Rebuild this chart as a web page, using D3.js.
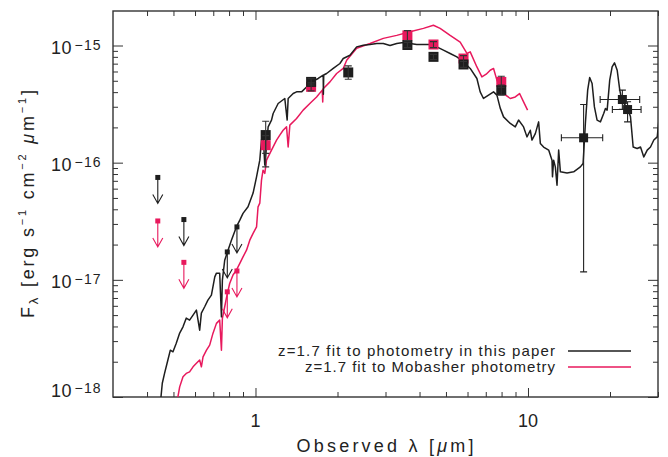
<!DOCTYPE html>
<html><head><meta charset="utf-8">
<script src="https://cdn.jsdelivr.net/npm/d3@7"></script>
<style>
body{margin:0;background:#fff}
svg{display:block}
text{font-family:"Liberation Sans",Arial,Helvetica,sans-serif;fill:#222}
</style>
</head><body>
<svg id="c" width="668" height="457"></svg>
<script>
// ---------- data ----------
const blackLambda=[0.449,0.455,0.464,0.477,0.487,0.498,0.512,0.527,0.542,0.557,0.573,0.590,0.607,0.624,0.633,0.651,0.669,0.689,0.709,0.719,0.739,0.750,0.756,0.771,0.793,0.816,0.851,0.876,0.900,0.939,0.980,1.009,1.037,1.052,1.066,1.082,1.113,1.145,1.161,1.211,1.281,1.307,1.318,1.375,1.415,1.476,1.540,1.606,1.699,1.772,1.775,1.780,1.824,1.929,2.041,2.099,2.222,2.351,2.487,2.632,2.786,2.945,3.117,3.299,3.489,3.692,3.908,4.133,4.374,4.629,4.894,5.180,5.483,5.799,6.137,6.494,6.677,6.866,7.166,7.475,7.691,7.909,8.135,8.610,8.981,9.235,9.634,9.915,10.20,10.34,10.64,10.94,11.10,11.41,11.91,12.25,12.30,12.42,12.60,12.78,12.96,13.15,13.91,14.71,15.57,15.93,16.24,16.56,16.84,17.19,17.53,17.93,18.44,18.96,19.24,19.52,19.95,20.36,20.77,21.25,21.72,22.16,23.12,23.78,24.32,25.16,25.88,26.61,27.39,28.16,28.96,29.81,30.4];
const blackFlux=[0.95e-18,1.31e-18,1.60e-18,2.07e-18,2.51e-18,2.43e-18,2.88e-18,3.51e-18,3.97e-18,4.71e-18,4.53e-18,5.00e-18,5.51e-18,3.72e-18,5.20e-18,5.89e-18,6.71e-18,7.40e-18,1.06e-17,1.14e-17,1.14e-17,4.83e-18,9.93e-18,1.47e-17,1.79e-17,2.18e-17,2.83e-17,3.23e-17,3.69e-17,4.20e-17,5.50e-17,7.57e-17,1.05e-16,1.56e-16,1.79e-16,9.53e-17,2.02e-16,2.31e-16,2.63e-16,3.20e-16,3.53e-16,2.31e-16,3.53e-16,3.89e-16,4.02e-16,4.02e-16,4.43e-16,4.89e-16,5.23e-16,5.58e-16,3.84e-16,5.60e-16,5.77e-16,6.37e-16,7.02e-16,7.74e-16,8.26e-16,9.73e-16,1.006e-15,1.02e-15,1.04e-15,1.04e-15,1.00e-15,1.04e-15,1.06e-15,1.04e-15,1.02e-15,1.02e-15,1.02e-15,9.73e-16,9.12e-16,8.55e-16,8.00e-16,7.24e-16,6.37e-16,5.23e-16,4.02e-16,3.53e-16,3.77e-16,4.02e-16,3.77e-16,2.92e-16,2.46e-16,2.16e-16,2.02e-16,2.31e-16,2.02e-16,1.66e-16,1.89e-16,1.56e-16,1.77e-16,2.23e-16,1.46e-16,1.36e-16,1.28e-16,1.05e-16,7.57e-17,1.05e-16,9.21e-17,6.43e-17,1.28e-16,8.35e-17,8.18e-17,8.35e-17,9.21e-17,9.85e-17,2.16e-16,4.16e-16,5.33e-16,4.74e-16,2.99e-16,2.31e-16,2.23e-16,2.63e-16,2.90e-16,2.81e-16,5.06e-16,6.56e-16,7.11e-16,6.15e-16,4.16e-16,3.30e-16,2.99e-16,2.46e-16,1.36e-16,1.32e-16,1.36e-16,1.12e-16,1.28e-16,1.36e-16,1.56e-16,1.66e-16,2.63e-16];

const pinkLambda=[0.517,0.527,0.542,0.557,0.573,0.590,0.607,0.624,0.633,0.642,0.661,0.679,0.698,0.719,0.739,0.750,0.756,0.771,0.786,0.804,0.827,0.851,0.876,0.900,0.927,0.953,0.980,1.009,1.022,1.037,1.052,1.066,1.082,1.098,1.113,1.145,1.195,1.228,1.263,1.300,1.318,1.337,1.415,1.496,1.583,1.676,1.758,1.765,1.772,1.876,1.985,2.099,2.161,2.351,2.632,2.945,3.299,3.692,4.133,4.498,4.760,5.180,5.638,5.969,6.137,6.494,6.774,7.025,7.267,7.475,7.691,8.135,8.610,8.981,9.314,9.634,9.966];
const pinkFlux=[0.95e-18,1.22e-18,1.49e-18,1.59e-18,1.64e-18,1.81e-18,1.94e-18,2.07e-18,1.81e-18,2.20e-18,2.51e-18,2.77e-18,3.49e-18,4.25e-18,4.53e-18,2.51e-18,4.69e-18,5.89e-18,7.40e-18,9.31e-18,1.10e-17,1.21e-17,1.38e-17,1.57e-17,1.79e-17,2.18e-17,2.49e-17,2.83e-17,4.20e-17,4.51e-17,7.10e-17,8.63e-17,8.09e-17,1.05e-16,1.12e-16,1.28e-16,1.56e-16,1.72e-16,1.89e-16,2.02e-16,1.36e-16,2.09e-16,2.38e-16,2.81e-16,3.20e-16,3.64e-16,4.16e-16,3.30e-16,4.28e-16,4.89e-16,5.77e-16,6.37e-16,7.49e-16,9.48e-16,1.04e-15,1.15e-15,1.22e-15,1.31e-15,1.40e-15,1.49e-15,1.40e-15,1.22e-15,1.07e-15,8.55e-16,8.82e-16,6.56e-16,5.40e-16,5.69e-16,6.15e-16,6.37e-16,5.06e-16,3.89e-16,3.53e-16,3.64e-16,3.89e-16,3.30e-16,2.81e-16];

// upper limits (B, V, i, z)
const limitLambda=[0.438,0.546,0.788,0.855];
const limitBlack=[7.48e-17,3.27e-17,1.73e-17,2.83e-17];
const limitPink=[3.18e-17,1.41e-17,7.9e-18,1.19e-17];

// detections (this paper)
const detBlackLambda=[1.09,1.60,2.19,3.61,4.50,5.80,7.98];
const detBlackFlux=[1.72e-16,4.89e-16,5.89e-16,1.01e-15,8.0e-16,6.89e-16,4.16e-16];
const detBlackLo=[1.20e-16,4.60e-16,5.15e-16,9.6e-16,7.6e-16,6.5e-16,3.77e-16];
const detBlackHi=[2.26e-16,5.20e-16,6.70e-16,1.06e-15,8.4e-16,7.3e-16,4.60e-16];
// detections (Mobasher)
const detPinkLambda=[1.09,1.60,3.61,4.50,5.80,7.98];
const detPinkFlux=[1.41e-16,4.44e-16,1.22e-15,1.02e-15,7.74e-16,4.89e-16];
const detPinkLo=[9.2e-17,4.1e-16,1.10e-15,9.6e-16,7.3e-16,4.4e-16];
const detPinkHi=[1.70e-16,4.8e-16,1.34e-15,1.08e-15,8.2e-16,5.47e-16];

// mid-IR points
const mirLambda=[16.0,22.2,23.2];
const mirLambdaLo=[13.26,18.4,20.4];
const mirLambdaHi=[18.8,25.7,26.0];
const mirFlux=[1.63e-16,3.46e-16,2.84e-16];
const mirFluxLo=[1.17e-17,2.86e-16,2.23e-16];
const mirFluxHi=[3.14e-16,4.16e-16,3.31e-16];

// ticks
const xMajorTicks=[1,10];
const xMajorLabels=["1","10"];
const xMinorTicks=[0.4,0.5,0.6,0.7,0.8,0.9,2,3,4,5,6,7,8,9,20,30];
const yMajorTicks=[1e-18,1e-17,1e-16,1e-15];
const yMajorExp=["\u221218","\u221217","\u221216","\u221215"];
const yMinorTicks=[1e-18,1e-17,1e-16].flatMap(d=>[2,3,4,5,6,7,8,9].map(m=>m*d));

const legendLabels=["z=1.7 fit to photometry in this paper","z=1.7 fit to Mobasher photometry"];

// ---------- layout ----------
const L=113,R=658,T=11,B=397;
const BLACK="#1e1e1e", PINK="#e8195d", AX="#333";
const svg=d3.select("#c");
const x=d3.scaleLog().domain([0.3,30]).range([L,R]);
const y=d3.scaleLog().domain([1e-18,1.97e-15]).range([B,T]);

svg.append("defs").append("clipPath").attr("id","clip")
  .append("rect").attr("x",L).attr("y",T).attr("width",R-L).attr("height",B-T);

// axes ticks (inward)
function ticks(gen,vals,size,tr){
  const a=svg.append("g").attr("transform",tr)
    .call(gen.tickValues(vals).tickSize(size).tickSizeOuter(0).tickFormat(""));
  a.select(".domain").remove();
  a.selectAll("line").attr("stroke",AX).attr("stroke-width",1);
}
ticks(d3.axisBottom(x),xMajorTicks,-9,`translate(0,${B})`);
ticks(d3.axisBottom(x),xMinorTicks,-5,`translate(0,${B})`);
ticks(d3.axisTop(x),xMajorTicks,-9,`translate(0,${T})`);
ticks(d3.axisTop(x),xMinorTicks,-5,`translate(0,${T})`);
ticks(d3.axisLeft(y),yMajorTicks,-10,`translate(${L},0)`);
ticks(d3.axisLeft(y),yMinorTicks,-5,`translate(${L},0)`);
ticks(d3.axisRight(y),yMajorTicks,-10,`translate(${R},0)`);
ticks(d3.axisRight(y),yMinorTicks,-5,`translate(${R},0)`);

svg.append("rect").attr("x",L).attr("y",T).attr("width",R-L).attr("height",B-T)
  .attr("fill","none").attr("stroke",AX).attr("stroke-width",1.4);

// tick labels
xMajorTicks.forEach((v,i)=>{
  svg.append("text").attr("x",x(v)).attr("y",426.5).attr("text-anchor","middle")
    .attr("font-size",18).text(xMajorLabels[i]);
});
yMajorTicks.forEach((v,i)=>{
  const base = i===0 ? y(v) : y(v)+8.5;
  svg.append("text").attr("x",72).attr("y",base).attr("text-anchor","end")
    .attr("font-size",18).attr("letter-spacing",0.5).text("10");
  svg.append("text").attr("x",74.5).attr("y",base-4.5).attr("font-size",14)
    .attr("letter-spacing",1.2).text(yMajorExp[i]);
});

// axis titles
const xt=svg.append("text").attr("x",385).attr("y",452).attr("text-anchor","middle")
  .attr("font-size",18).attr("textLength",177).attr("lengthAdjust","spacing");
xt.append("tspan").text("Observed \u03bb [");
xt.append("tspan").attr("font-style","italic").text("\u03bc");
xt.append("tspan").text("m]");

const yt=svg.append("text").attr("transform","translate(34,204) rotate(-90)")
  .attr("text-anchor","middle").attr("font-size",18)
  .attr("textLength",228).attr("lengthAdjust","spacing");
yt.append("tspan").text("F");
yt.append("tspan").attr("font-size",13).attr("dy",4).text("\u03bb");
yt.append("tspan").attr("dy",-4).text(" [erg s");
yt.append("tspan").attr("font-size",11).attr("dy",-8).text("\u22121");
yt.append("tspan").attr("dy",8).text(" cm");
yt.append("tspan").attr("font-size",11).attr("dy",-8).text("\u22122");
yt.append("tspan").attr("dy",8).text("  ");
yt.append("tspan").attr("font-style","italic").text("\u03bc");
yt.append("tspan").text("m");
yt.append("tspan").attr("font-size",11).attr("dy",-8).text("\u22121");
yt.append("tspan").attr("dy",8).text("]");

// curves
const plot=svg.append("g").attr("clip-path","url(#clip)");
const line=d3.line().x(d=>x(d[0])).y(d=>y(d[1]));
plot.append("path").datum(pinkLambda.map((l,i)=>[l,pinkFlux[i]]))
  .attr("d",line).attr("fill","none").attr("stroke",PINK).attr("stroke-width",1.5).attr("stroke-linejoin","round");
plot.append("path").datum(blackLambda.map((l,i)=>[l,blackFlux[i]]))
  .attr("d",line).attr("fill","none").attr("stroke",BLACK).attr("stroke-width",1.5).attr("stroke-linejoin","round");

// upper limits
function limits(vals,color){
  vals.forEach((f,i)=>{
    const cx=x(limitLambda[i]), cy=y(f), tip=cy+26;
    plot.append("rect").attr("x",cx-2.5).attr("y",cy-2.5).attr("width",5).attr("height",5).attr("fill",color);
    plot.append("path").attr("d",`M${cx},${cy}V${tip}M${cx-5},${tip-9}L${cx},${tip}L${cx+5},${tip-9}`)
      .attr("fill","none").attr("stroke",color).attr("stroke-width",1.1);
  });
}
limits(limitBlack,BLACK);
limits(limitPink,PINK);

// detections
function squares(lams,fl,color,s){
  lams.forEach((l,i)=>{
    plot.append("rect").attr("x",x(l)-s/2).attr("y",y(fl[i])-s/2).attr("width",s).attr("height",s).attr("fill",color);
  });
}
function ybars(lams,lo,hi,cap){
  lams.forEach((l,i)=>{
    const cx=x(l), y1=y(hi[i]), y2=y(lo[i]);
    plot.append("path").attr("d",`M${cx},${y1}V${y2}M${cx-cap},${y1}H${cx+cap}M${cx-cap},${y2}H${cx+cap}`)
      .attr("fill","none").attr("stroke","#333").attr("stroke-width",1.1);
  });
}
squares(detPinkLambda,detPinkFlux,PINK,10);
squares(detBlackLambda,detBlackFlux,BLACK,10);
ybars(detPinkLambda,detPinkLo,detPinkHi,3.5);
ybars(detBlackLambda,detBlackLo,detBlackHi,3.5);

// mid-IR
mirLambda.forEach((l,i)=>{
  const cx=x(l), cy=y(mirFlux[i]), x1=x(mirLambdaLo[i]), x2=x(mirLambdaHi[i]), y1=y(mirFluxHi[i]), y2=y(mirFluxLo[i]);
  plot.append("path").attr("d",`M${x1},${cy}H${x2}M${x1},${cy-3.5}V${cy+3.5}M${x2},${cy-3.5}V${cy+3.5}M${cx},${y1}V${y2}M${cx-3.5},${y1}H${cx+3.5}M${cx-3.5},${y2}H${cx+3.5}`)
    .attr("fill","none").attr("stroke","#222").attr("stroke-width",1.1);
});
squares(mirLambda,mirFlux,BLACK,9);

// legend
const leg=[[legendLabels[0],BLACK,351,277],[legendLabels[1],PINK,367,250]];
leg.forEach(([t,c,ly,tl])=>{
  svg.append("text").attr("x",555).attr("y",ly+5).attr("text-anchor","end").attr("font-size",15)
    .attr("textLength",tl).attr("lengthAdjust","spacing").text(t);
  svg.append("line").attr("x1",568).attr("x2",631).attr("y1",ly).attr("y2",ly)
    .attr("stroke",c).attr("stroke-width",1.5);
});
</script>
</body></html>
